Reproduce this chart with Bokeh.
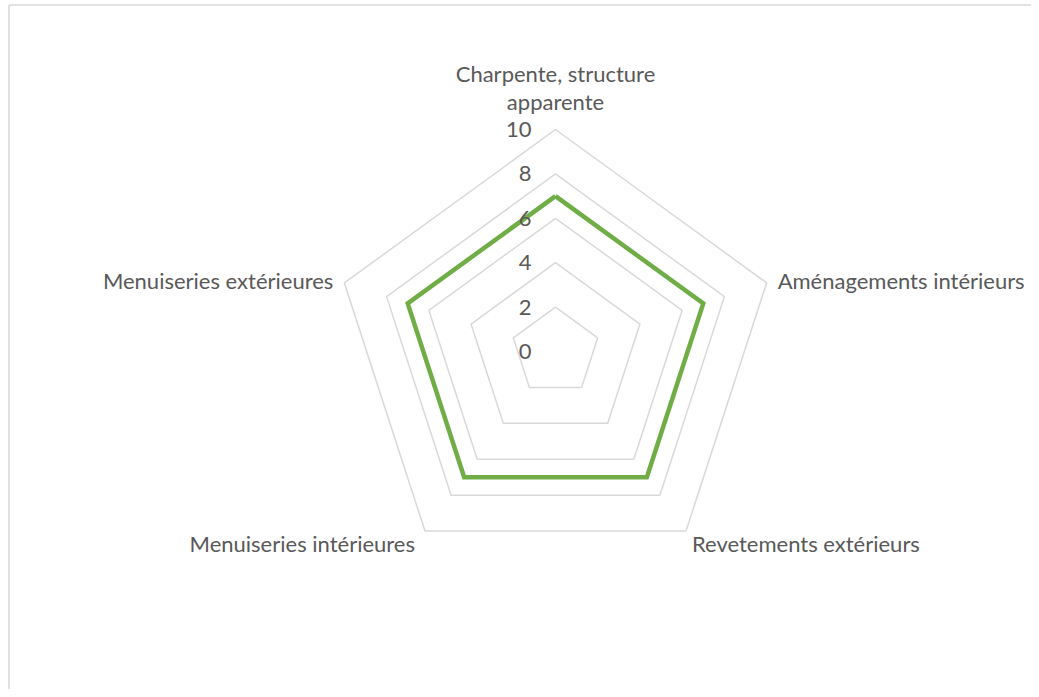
import numpy as np
from bokeh.plotting import figure
from bokeh.models import Range1d
from bokeh.core.properties import value
from bokeh.embed import file_html
from bokeh.resources import INLINE

categories = ["Charpente, structure\napparente", "Aménagements intérieurs",
              "Revetements extérieurs", "Menuiseries intérieures",
              "Menuiseries extérieures"]
values = [7, 7, 7, 7, 7]
ticks = [0, 2, 4, 6, 8, 10]

FONT = "Lato"
FS = "22px"
TXT = "#595959"
GRID = "#d9d9d9"
GREEN = "#70ad47"

W, H = 1031, 689
S = 22.2          # pixels per unit
cx, cy = 555, 351  # centre in figure pixels

p = figure(width=W, height=H, output_backend="svg", toolbar_location=None,
           x_range=Range1d(-cx / S, (W - cx) / S),
           y_range=Range1d(-(H - cy) / S, cy / S),
           min_border=0, min_border_left=0, min_border_right=0,
           min_border_top=0, min_border_bottom=0)
p.xaxis.visible = False
p.yaxis.visible = False
p.xgrid.visible = False
p.ygrid.visible = False
p.outline_line_color = None
p.background_fill_color = "white"
p.border_fill_color = "white"

n = len(categories)
theta = np.pi / 2 - np.arange(n) * 2 * np.pi / n
rmax = max(ticks)

# chart frame (top and left edges visible)
x0, x1 = p.x_range.start, p.x_range.end
y0, y1 = p.y_range.start, p.y_range.end
fx = x0 + 8.5 / S
fy = y1 - 4.5 / S
p.segment(x0=[fx, fx], y0=[fy, fy], x1=[fx, x1], y1=[y0, fy],
          line_color=GRID, line_width=1.5)

# grid rings
ring_xs, ring_ys = [], []
for t in ticks[1:]:
    ring_xs.append(list(np.append(t * np.cos(theta), t * np.cos(theta[0]))))
    ring_ys.append(list(np.append(t * np.sin(theta), t * np.sin(theta[0]))))
p.multi_line(ring_xs, ring_ys, line_color=GRID, line_width=1.5)

# series
v = np.array(values, dtype=float)
sx = list(np.append(v * np.cos(theta), v[0] * np.cos(theta[0])))
sy = list(np.append(v * np.sin(theta), v[0] * np.sin(theta[0])))
p.line(sx, sy, line_color=GREEN, line_width=4.5, line_join="miter")

# tick labels
p.text(x=[0] * len(ticks), y=ticks, text=[str(t) for t in ticks],
       x_offset=-24, text_align="right", text_baseline="middle",
       text_font=value(FONT), text_font_size=FS, text_color=TXT)

# category labels
offs = [(0, -28), (11, -2), (6, 12), (-10, 12), (-11, -2)]
aligns = ["center", "left", "left", "right", "right"]
for k, cat in enumerate(categories):
    lines = cat.split("\n")
    vx = rmax * np.cos(theta[k])
    vy = rmax * np.sin(theta[k])
    nl = len(lines)
    for j, ln in enumerate(lines):
        dy = offs[k][1] - (nl - 1 - j) * 28
        p.text(x=[vx], y=[vy], text=[ln], x_offset=offs[k][0], y_offset=dy,
               text_align=aligns[k], text_baseline="middle",
               text_font=value(FONT), text_font_size=FS, text_color=TXT)

open("out.html", "w").write(file_html(p, INLINE))
